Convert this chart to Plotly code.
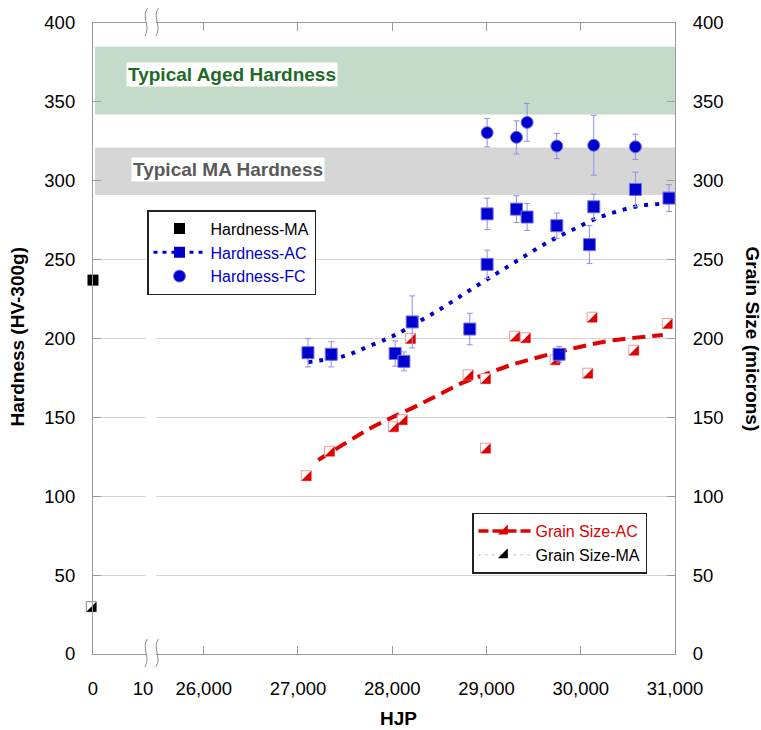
import plotly.graph_objects as go

# ---------------- data ----------------
hjp_ma = [0]
hardness_ma = [237]
grain_ma = [30]

hjp_ac = [27106, 27353, 28031, 28124, 28212, 28823, 29007, 29007, 29318, 29431,
          29746, 29770, 30092, 30138, 30580, 30936]
hardness_ac = [191, 190, 190.5, 185.5, 210.5, 206, 279, 247, 282, 277,
               271.5, 190, 259.5, 283.5, 294.5, 289]
hardness_ac_err = [9, 8, 8, 6, 16.5, 10, 10, 9, 8.5, 8.5, 8, 5, 12, 8, 11, 8.5]

hjp_fc = [29007, 29318, 29431, 29746, 30138, 30580]
hardness_fc = [330.5, 327.5, 337, 322, 322.5, 321.5]
hardness_fc_err = [9, 10.5, 12, 8, 19, 8]

hjp_gs = [27106, 27353, 28031, 28124, 28212, 28823, 29007, 29007, 29318, 29431,
          29746, 30092, 30138, 30580, 30936]
grain_ac = [113, 128.5, 144, 148.5, 200, 177, 174.5, 130.5, 201.5, 200.5,
            186.5, 178, 213.5, 192.5, 209.5]

trend_ac_hjp = [27110, 27230, 27500, 27700, 27930, 28050, 28290, 28520, 28750, 28990,
                29230, 29460, 29690, 29930, 30170, 30400, 30630, 30860, 30940]
trend_ac_hardness = [185, 186, 189, 193.8, 199.5, 202.8, 211, 219, 227.8, 236.9,
                     245.7, 254.3, 262.3, 269.4, 276.2, 280.8, 284.2, 285.6, 287]

trend_gs_hjp = [27215, 27500, 27750, 28000, 28250, 28500, 28750, 29000, 29250, 29500,
                29750, 30000, 30250, 30500, 30750, 30870]
trend_gs = [123, 133.5, 142.5, 150, 157, 164.5, 172, 177.5, 183, 187.3,
            191.2, 194.8, 198, 200, 201.5, 202.2]

band_aged = [342, 385]
band_ma = [291, 321]

x_ticks_low = [0, 10]
x_ticks_high = [26000, 27000, 28000, 29000, 30000, 31000]
y_ticks = [0, 50, 100, 150, 200, 250, 300, 350, 400]

# ---------------- geometry / style ----------------
W, H = 761, 730
L, R, T, B = 93, 86, 20, 76
PW, PH = W - L - R, H - T - B


def px(p):
    return (p - L) / PW


def py(q):
    return (T + PH - q) / PH


FONT = "Liberation Sans, Arial, sans-serif"
BLUE = "#0000cc"
RED = "#e00000"
AXC = "#9a9a9a"
GRID = "#d4d4d4"
SQ = 10
TRI = SQ / 0.9
OFF = SQ / 6

fig = go.Figure()

# 1 Hardness-MA
fig.add_trace(go.Scatter(
    x=hjp_ma, y=hardness_ma, xaxis="x", yaxis="y", mode="markers",
    name="Hardness-MA", legend="legend", cliponaxis=False,
    marker=dict(symbol="square", size=11, color="black")))

# 2 legend dummy Hardness-AC
fig.add_trace(go.Scatter(
    x=[None], y=[None], xaxis="x2", yaxis="y2", mode="lines+markers",
    name='<span style="color:#0000cc">Hardness-AC</span>', legend="legend",
    line=dict(color=BLUE, width=3, dash="4px,5px"),
    marker=dict(symbol="square", size=11, color=BLUE)))

# 3 Hardness-FC
fig.add_trace(go.Scatter(
    x=hjp_fc, y=hardness_fc, xaxis="x2", yaxis="y2", mode="markers",
    name='<span style="color:#0000cc">Hardness-FC</span>', legend="legend",
    marker=dict(symbol="circle", size=12, color=BLUE,
                line=dict(color="#6f6ff0", width=1)),
    error_y=dict(type="data", array=hardness_fc_err, color="#8f8fe8",
                 thickness=1, width=3)))

# 4 grain trend
fig.add_trace(go.Scatter(
    x=trend_gs_hjp, y=trend_gs, xaxis="x2", yaxis="y2", mode="lines",
    showlegend=False, line=dict(color=RED, width=4, dash="13px,7px", shape="spline")))

# 5/6 grain AC half squares
fig.add_trace(go.Scatter(
    x=hjp_gs, y=grain_ac, xaxis="x2", yaxis="y2", mode="markers", showlegend=False,
    marker=dict(symbol="square", size=SQ, color="white", angle=90, standoff=OFF,
                line=dict(color="#f09a9a", width=1))))
fig.add_trace(go.Scatter(
    x=hjp_gs, y=grain_ac, xaxis="x2", yaxis="y2", mode="markers", showlegend=False,
    marker=dict(symbol="triangle-se", size=TRI, color=RED, standoff=OFF,
                line=dict(width=0))))

# 7/8 grain MA half square
fig.add_trace(go.Scatter(
    x=hjp_ma, y=grain_ma, xaxis="x", yaxis="y", mode="markers", showlegend=False,
    cliponaxis=False,
    marker=dict(symbol="square", size=SQ, color="white", angle=90, standoff=OFF,
                line=dict(color="#8a8a8a", width=1))))
fig.add_trace(go.Scatter(
    x=hjp_ma, y=grain_ma, xaxis="x", yaxis="y", mode="markers", showlegend=False,
    cliponaxis=False,
    marker=dict(symbol="triangle-se", size=TRI, color="black", standoff=OFF,
                line=dict(width=0))))

# 9/10 legend dummies for grain size
fig.add_trace(go.Scatter(
    x=[None], y=[None], xaxis="x2", yaxis="y2", mode="lines+markers",
    name='<span style="color:#e00000">Grain Size-AC</span>', legend="legend2",
    line=dict(color=RED, width=3.5, dash="10px,4px"),
    marker=dict(symbol="triangle-se", size=TRI, color=RED, line=dict(width=0))))
fig.add_trace(go.Scatter(
    x=[None], y=[None], xaxis="x2", yaxis="y2", mode="lines+markers",
    name="Grain Size-MA", legend="legend2",
    line=dict(color="#b0b0b0", width=1, dash="2px,5px"),
    marker=dict(symbol="triangle-se", size=TRI, color="black", line=dict(width=0))))

# 11 hardness AC trend
fig.add_trace(go.Scatter(
    x=trend_ac_hjp, y=trend_ac_hardness, xaxis="x2", yaxis="y2", mode="lines",
    showlegend=False, line=dict(color=BLUE, width=4, dash="4px,7px", shape="spline")))

# 12 hardness AC points
fig.add_trace(go.Scatter(
    x=hjp_ac, y=hardness_ac, xaxis="x2", yaxis="y2", mode="markers", showlegend=False,
    marker=dict(symbol="square", size=12, color=BLUE,
                line=dict(color="#6f6ff0", width=1)),
    error_y=dict(type="data", array=hardness_ac_err, color="#8f8fe8",
                 thickness=1, width=3)))

# ---------------- shapes ----------------
shapes = [
    dict(type="rect", xref="paper", yref="y", x0=px(95), x1=1,
         y0=band_aged[0], y1=band_aged[1], fillcolor="#c3dbc8",
         line=dict(width=0), layer="below"),
    dict(type="rect", xref="paper", yref="y", x0=px(95), x1=1,
         y0=band_ma[0], y1=band_ma[1], fillcolor="#d6d6d6",
         line=dict(width=0), layer="below"),
]


def wave(xc, ytop, ybot):
    h = ybot - ytop
    pts = [(xc + 1.5, ytop), (xc - 5, ytop + 0.3 * h), (xc + 5, ytop + 0.65 * h), (xc - 1, ybot)]
    p = [(px(a), py(b)) for a, b in pts]
    return ("M {:.5f},{:.5f} C {:.5f},{:.5f} {:.5f},{:.5f} {:.5f},{:.5f}".format(
        p[0][0], p[0][1], p[1][0], p[1][1], p[2][0], p[2][1], p[3][0], p[3][1]))


for xc in (146, 157):
    for (yt, yb) in ((5, 33), (639, 667)):
        shapes.append(dict(type="path", xref="paper", yref="paper", path=wave(xc, yt, yb),
                           line=dict(color="#8c8c8c", width=1), layer="above"))


def ann(text, xp, yp, size, color, angle=0, bg=None):
    d = dict(text=text, xref="paper", yref="paper", x=px(xp), y=py(yp),
             xanchor="center", yanchor="middle", showarrow=False, textangle=angle,
             font=dict(family=FONT, size=size, color=color))
    if bg:
        d.update(bgcolor=bg, borderpad=1)
    return d


annotations = [
    ann("<b>Typical Aged Hardness</b>", 231.5, 72, 19, "#1d6b27", bg="white"),
    ann("<b>Typical MA Hardness</b>", 228, 167, 19, "#5a5a5a", bg="white"),
    ann("<b>HJP</b>", 398, 719, 19, "black"),
    ann("<b>Hardness (HV-300g)</b>", 18, 335, 19, "black", angle=-90),
    ann("<b>Grain Size (microns)</b>", 752, 337, 19, "black", angle=90),
]

tickfont = dict(family=FONT, size=18.5, color="black")
common_x = dict(showline=True, linecolor=AXC, linewidth=1.2, showgrid=False,
                zeroline=False, tickfont=tickfont, ticklabelstandoff=18)
common_y = dict(range=[0, 400], tickvals=y_ticks, showline=True, linecolor=AXC,
                linewidth=1.2, showgrid=True, gridcolor=GRID, gridwidth=1,
                zeroline=False, ticks="inside", ticklen=8, tickcolor=AXC,
                tickfont=tickfont, ticklabelstandoff=13)

fig.update_layout(
    width=W, height=H,
    margin=dict(l=L, r=R, t=T, b=B),
    paper_bgcolor="white", plot_bgcolor="white",
    font=dict(family=FONT, color="black"),
    xaxis=dict(domain=[0, px(146)], range=[0, 10.6], tickvals=x_ticks_low,
               ticks="", mirror=True, anchor="y", **common_x),
    xaxis2=dict(domain=[px(156), 1], range=[25494, 31000], tickvals=x_ticks_high,
                tickformat=",d", ticks="inside", ticklen=8, tickcolor=AXC,
                mirror="ticks", anchor="y2", **common_x),
    yaxis=dict(domain=[0, 1], anchor="x", side="left", **common_y),
    yaxis2=dict(domain=[0, 1], anchor="x2", side="right", **common_y),
    legend=dict(x=px(147), y=py(208), xanchor="left", yanchor="top",
                bgcolor="white", bordercolor="#222222", borderwidth=1.5,
                font=dict(family=FONT, size=16, color="black"), itemwidth=52),
    legend2=dict(x=px(472), y=py(512), xanchor="left", yanchor="top",
                 bgcolor="white", bordercolor="#222222", borderwidth=1.5,
                 font=dict(family=FONT, size=16, color="black"), itemwidth=52),
    shapes=shapes,
    annotations=annotations,
    showlegend=True,
    hovermode=False,
)

fig.write_html("out.html", config={"displayModeBar": False},
               post_script="document.body.style.margin='0';")
